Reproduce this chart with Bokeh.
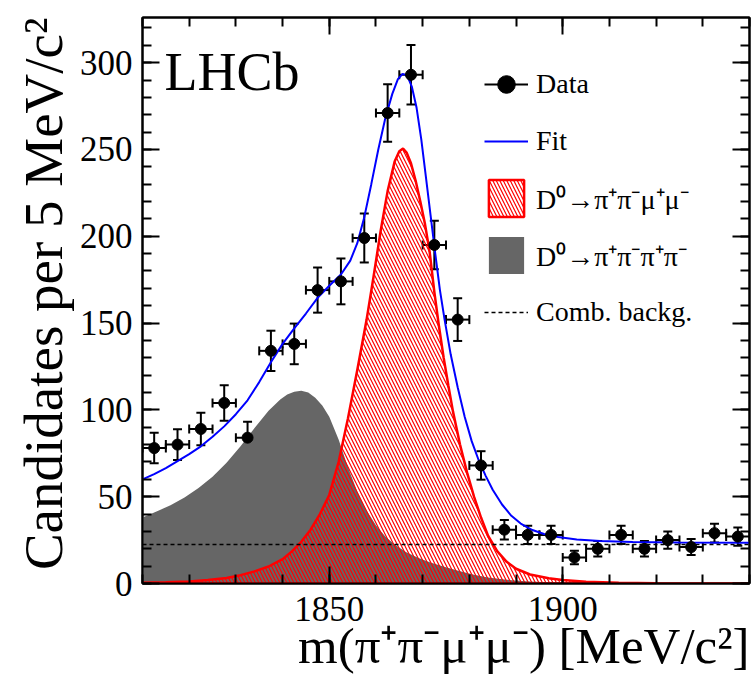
from bokeh.plotting import figure
from bokeh.models import (Range1d, FixedTicker, LinearAxis, Label, Legend, LegendItem,
                          ColumnDataSource, Whisker, TeeHead, CustomJSTickFormatter, Title)
from bokeh.embed import file_html
from bokeh.resources import INLINE

# ---------------- data ----------------
bin_centers = [1812.5, 1817.5, 1822.5, 1827.5, 1832.5, 1837.5, 1842.5, 1847.5, 1852.5,
               1857.5, 1862.5, 1867.5, 1872.5, 1877.5, 1882.5, 1887.5, 1892.5, 1897.5,
               1902.5, 1907.5, 1912.5, 1917.5, 1922.5, 1927.5, 1932.5, 1937.5]
counts = [78, 80, 89, 104, 84, 134, 138, 169, 174, 199, 271, 293, 195, 152, 68, 31, 28, 28,
          15, 20, 28, 20, 25, 21, 29, 27]
count_err = [8.8, 8.9, 9.4, 10.2, 9.2, 11.6, 11.7, 13.0, 13.2, 14.1, 16.5, 17.1, 14.0, 12.3,
             8.2, 5.6, 5.3, 5.3, 3.9, 4.5, 5.3, 4.5, 5.0, 4.6, 5.4, 5.2]
bin_half_width = 2.5

sig_mass = [1810, 1815, 1820, 1824, 1828, 1831, 1834, 1837, 1840, 1842, 1844, 1846, 1848,
            1850, 1852, 1854, 1856, 1858, 1859.5, 1861, 1862.5, 1864, 1865, 1865.8, 1866.6,
            1867.5, 1868.5, 1869.5, 1870.5, 1871.5, 1872.5, 1873.5, 1874.5, 1875.5, 1876.5,
            1878, 1879.5, 1881, 1882.5, 1884, 1886, 1888, 1890, 1893, 1897, 1900, 1905,
            1912, 1920, 1930, 1940]
sig_yield = [0.4, 0.7, 1.2, 2.0, 3.2, 4.8, 7.0, 9.8, 14, 18.5, 24, 31, 40,
             51, 70, 95, 123, 152, 177, 203, 226, 243, 249, 250.5, 248,
             242, 232, 220, 207, 191, 168, 148, 130, 114, 99,
             80, 64, 50, 38, 27.5, 18.5, 12.5, 8.5, 5.2, 3.0, 2.0, 1.0,
             0.4, 0.15, 0.05, 0.0]

bkg4pi_mass = [1810, 1813, 1816, 1819, 1822, 1825, 1828, 1831, 1834, 1837, 1839.5, 1841,
               1842.5, 1844, 1845.5, 1847, 1848.5, 1850, 1852, 1854, 1856, 1858, 1860,
               1862, 1864, 1866.5, 1869, 1871.5, 1875, 1878, 1881, 1884, 1888, 1893, 1900,
               1910, 1925, 1940]
bkg4pi_yield = [38, 41.5, 45, 49.5, 55, 61.5, 69.5, 79, 89.5, 99.5, 106, 108.8,
                110.5, 111, 110, 107, 102.5, 96, 83, 67, 53, 42, 33.5,
                27, 22.5, 18, 14.8, 12.2, 9.3, 7.0, 5.0, 3.5, 2.1, 1.1, 0.5,
                0.15, 0.03, 0.0]

fit_mass = [1810, 1812.5, 1815, 1817.5, 1820, 1822.5, 1825, 1827.5, 1830, 1832.5, 1835,
            1837.5, 1840, 1842.5, 1845, 1847.5, 1850, 1852.5, 1854.5, 1856, 1857.5, 1859,
            1860.5, 1862, 1863.5, 1864.7, 1865.7, 1866.7, 1867.7, 1868.7, 1869.7, 1870.7,
            1871.7, 1872.7, 1873.7, 1874.7, 1876, 1877.5, 1879, 1880.5, 1882, 1883.5, 1885,
            1887, 1889, 1891, 1893.5, 1896, 1899, 1903, 1908, 1915, 1925, 1940]
fit_total = [60, 63, 66.5, 70.5, 74.5, 79, 84.5, 90.5, 97.5, 105.5, 116,
             127.5, 138, 147, 155.5, 164.5, 171.5, 178, 186, 196, 211, 230,
             250, 268, 282, 290.5, 293.5, 292.5, 286, 274, 256, 234,
             212, 190, 169, 152, 132, 113, 96, 82, 71, 62, 54,
             45.5, 39, 34.5, 30.8, 28.5, 26.8, 25.4, 24.5, 23.9, 23.6, 23.4]

comb_mass = [1810, 1940]
comb_level = [22.5, 22.5]

x_major_ticks = [1850, 1900]
x_minor_ticks = [1810, 1820, 1830, 1840, 1850, 1860, 1870, 1880, 1890, 1900, 1910, 1920,
                 1930, 1940]
y_major_ticks = [0, 50, 100, 150, 200, 250, 300]
y_minor_ticks = [0, 10, 20, 30, 40, 50, 60, 70, 80, 90, 100, 110, 120, 130, 140, 150, 160,
                 170, 180, 190, 200, 210, 220, 230, 240, 250, 260, 270, 280, 290, 300, 310,
                 320]
legend_labels = ["Data", "Fit", "D⁰→π⁺π⁻μ⁺μ⁻", "D⁰→π⁺π⁻π⁺π⁻", "Comb. backg."]
x_title = "m(π⁺π⁻μ⁺μ⁻) [MeV/c²]"
y_title = "Candidates per 5 MeV/c²"
experiment = "LHCb"

# ---------------- layout ----------------
W, H = 753, 680
FL, FR, FT, FB = 142, 749, 17, 583
X0, X1, Y0, Y1 = 1810, 1940, 0, 326
FONT = "Liberation Serif"


def dx(px):
    return X0 + (px - FL) * (X1 - X0) / (FR - FL)


def dy(py):
    return Y0 + (FB - py) * (Y1 - Y0) / (FB - FT)


p = figure(width=W, height=H, x_range=Range1d(X0, X1), y_range=Range1d(Y0, Y1),
           output_backend="svg", toolbar_location=None,
           min_border_left=FL, min_border_right=W - FR, min_border_top=FT,
           min_border_bottom=H - FB)
p.xgrid.visible = False
p.ygrid.visible = False
p.outline_line_color = "black"
p.outline_line_width = 2
p.background_fill_color = "white"
p.border_fill_color = "white"


def style_axis(ax, ticks, minor, labels, standoff):
    ax.ticker = FixedTicker(ticks=ticks, minor_ticks=minor)
    ax.axis_line_width = 2
    ax.axis_line_color = "black"
    ax.major_tick_line_width = 2
    ax.minor_tick_line_width = 2
    ax.major_tick_in = 17
    ax.major_tick_out = 0
    ax.minor_tick_in = 9
    ax.minor_tick_out = 0
    ax.major_label_text_font = FONT
    ax.major_label_text_color = "black"
    ax.major_label_text_font_size = "35px"
    ax.major_label_standoff = standoff
    if not labels:
        ax.formatter = CustomJSTickFormatter(code="return ''")
        ax.major_label_text_font_size = "1px"
        ax.major_label_standoff = 0


style_axis(p.xaxis[0], x_major_ticks, x_minor_ticks, True, 13)
style_axis(p.yaxis[0], y_major_ticks, y_minor_ticks, True, 10)
top_ax = LinearAxis()
right_ax = LinearAxis()
style_axis(top_ax, x_major_ticks, x_minor_ticks, False, 0)
style_axis(right_ax, y_major_ticks, y_minor_ticks, False, 0)
p.add_layout(top_ax, "above")
p.add_layout(right_ax, "right")

# ---------------- components ----------------
bkg_r = p.patch(bkg4pi_mass + [bkg4pi_mass[-1], bkg4pi_mass[0]],
                bkg4pi_yield + [0, 0],
                fill_color="#666666", line_color=None)
sig_r = p.patch(sig_mass + [sig_mass[-1], sig_mass[0]],
                sig_yield + [0, 0],
                fill_color="white", fill_alpha=0.0,
                hatch_pattern="\\", hatch_color="red", hatch_scale=7, hatch_weight=1.2,
                line_color="red", line_width=2.5)
comb_r = p.line(comb_mass, comb_level, line_color="black", line_width=1.6, line_dash="4 3")
fit_r = p.line(fit_mass, fit_total, line_color="blue", line_width=2)

src = ColumnDataSource(dict(
    x=bin_centers, y=counts,
    lo=[c - e for c, e in zip(counts, count_err)],
    hi=[c + e for c, e in zip(counts, count_err)],
    xlo=[x - bin_half_width for x in bin_centers],
    xhi=[x + bin_half_width for x in bin_centers],
))
head = dict(size=9, line_width=2, line_color="black")
p.add_layout(Whisker(source=src, base="x", lower="lo", upper="hi", dimension="height",
                     line_color="black", line_width=2,
                     lower_head=TeeHead(**head), upper_head=TeeHead(**head)))
p.add_layout(Whisker(source=src, base="y", lower="xlo", upper="xhi", dimension="width",
                     line_color="black", line_width=2,
                     lower_head=TeeHead(**head), upper_head=TeeHead(**head)))
pts_r = p.scatter("x", "y", source=src, marker="circle", size=11, color="black")
data_line_r = p.line(x=[float("nan")], y=[float("nan")], line_color="black", line_width=2)

# ---------------- legend ----------------
legend = Legend(items=[
    LegendItem(label=legend_labels[0], renderers=[data_line_r, pts_r]),
    LegendItem(label=legend_labels[1], renderers=[fit_r]),
    LegendItem(label=legend_labels[2], renderers=[sig_r]),
    LegendItem(label=legend_labels[3], renderers=[bkg_r]),
    LegendItem(label=legend_labels[4], renderers=[comb_r]),
], location=(484 - FL, FB - (61 + 5 * 46 + 4 * 11)),
    orientation="vertical", background_fill_alpha=0, border_line_color=None,
    label_text_font=FONT, label_text_font_size="28px", label_text_color="black",
    glyph_width=44, glyph_height=46, label_height=46, spacing=11,
    padding=0, margin=0, label_standoff=8)
p.add_layout(legend)

# ---------------- texts ----------------
p.add_layout(Label(x=dx(164), y=dy(71), text=experiment, text_font=FONT,
                   text_font_size="54px", text_align="left", text_baseline="alphabetic",
                   text_color="black"))
p.add_layout(Title(text=x_title, align="right", text_font=FONT, text_font_size="51px",
                   text_font_style="normal", text_color="black", standoff=-16), "below")
p.add_layout(Title(text=y_title, align="right", text_font=FONT, text_font_size="55px",
                   text_font_style="normal", text_color="black", standoff=6), "left")

open("out.html", "w").write(file_html(p, INLINE))
